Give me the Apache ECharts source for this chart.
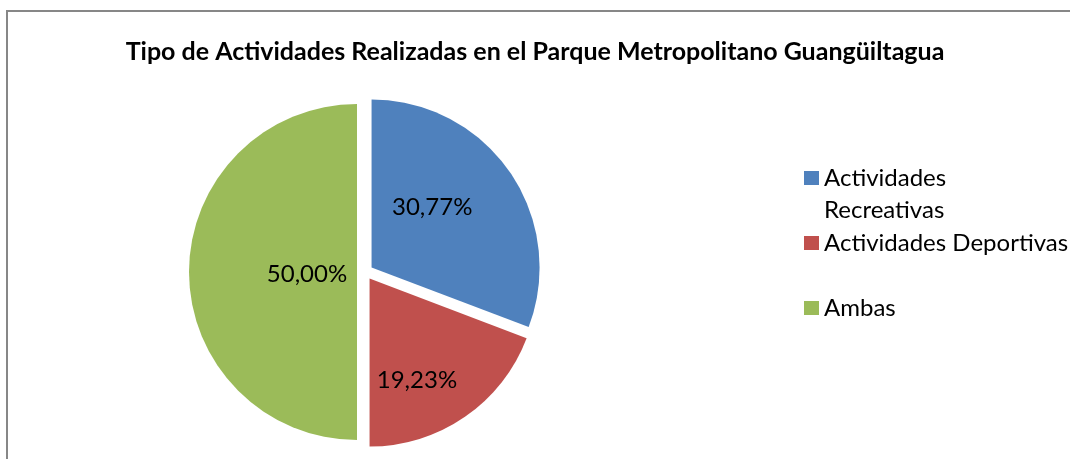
<!DOCTYPE html>
<html>
<head>
<meta charset="utf-8">
<script src="https://cdn.jsdelivr.net/npm/echarts@6/dist/echarts.min.js"></script>
<style>
    html, body { margin: 0; padding: 0; background: #fff; }
    #chart { width: 1070px; height: 459px; }
</style>
</head>
<body>
<div id="chart"></div>
<script>
// 数据
var titleText = 'Tipo de Actividades Realizadas en el Parque Metropolitano Guangüiltagua';
var categories = ['Actividades Recreativas', 'Actividades Deportivas', 'Ambas'];
var legendNames = ['\nActividades\nRecreativas', 'Actividades Deportivas', 'Ambas'];
var values = [30.77, 19.23, 50.00];
var colors = ['#4f81bd', '#c0504d', '#9bbb59'];

var fontFamily = 'Lato, "Open Sans", sans-serif';

// 标签微调（Excel 的标签位置与 ECharts 默认不同）
var labelShift = [[-11, -11], [-2, 30], [37, 2]];

// 饼图数据
var pieData = categories.map(function (name, i) {
    return {
        name: name,
        value: values[i],
        selected: true,
        itemStyle: { color: colors[i] }
    };
});

// 图例：第一项两行（前加空行对齐图标），其余一行，统一高度
var legendData = categories.map(function (name, i) {
    return {
        name: name,
        textStyle: {
            padding: i === 0 ? 0 : [32, 0, 32, 0]
        }
    };
});

var myChart = echarts.init(document.getElementById('chart'));

var option = {
    backgroundColor: '#fff',
    animation: false,
    title: {
        text: titleText,
        left: 'center',
        top: 34,
        textStyle: {
            fontFamily: fontFamily,
            fontWeight: 'bold',
            fontSize: 25,
            color: '#000'
        }
    },
    legend: {
        orient: 'vertical',
        left: 799,
        top: 125,
        itemWidth: 15,
        itemHeight: 14,
        itemGap: -31,
        icon: 'rect',
        selectedMode: false,
        data: legendData,
        formatter: function (name) {
            return legendNames[categories.indexOf(name)];
        },
        textStyle: {
            fontFamily: fontFamily,
            fontSize: 24,
            lineHeight: 32,
            color: '#000'
        }
    },
    graphic: [{
        type: 'rect',
        shape: { x: 7, y: 11, width: 1200, height: 600 },
        style: { fill: 'none', stroke: '#878787', lineWidth: 2 },
        silent: true
    }],
    series: [{
        type: 'pie',
        center: [365, 272],
        radius: 168,
        startAngle: 90,
        clockwise: true,
        selectedMode: 'multiple',
        selectedOffset: 8,
        data: pieData,
        itemStyle: { borderWidth: 0 },
        emphasis: { disabled: true },
        label: {
            position: 'inside',
            formatter: function (p) {
                return p.value.toFixed(2).replace('.', ',') + '%';
            },
            fontFamily: fontFamily,
            fontSize: 24,
            color: '#000'
        },
        labelLayout: function (params) {
            var s = labelShift[params.dataIndex];
            return { dx: s[0], dy: s[1] };
        },
        labelLine: { show: false }
    }]
};

myChart.setOption(option);
</script>
</body>
</html>
